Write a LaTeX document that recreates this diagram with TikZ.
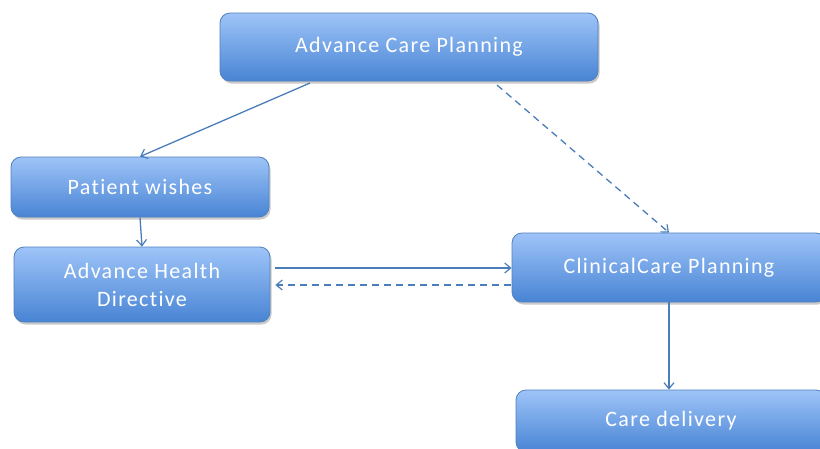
\documentclass[tikz,border=0pt]{standalone}
\usepackage{fontspec}
\setmainfont{Carlito}[LetterSpace=6,Ligatures={NoCommon}]
\usetikzlibrary{shadows,arrows.meta}
\definecolor{boxtop}{RGB}{158,196,248}
\definecolor{boxbot}{RGB}{72,132,212}
\definecolor{boxline}{RGB}{80,128,190}
\definecolor{arrowc}{RGB}{74,126,187}
\begin{document}
\begin{tikzpicture}[x=1pt,y=-1pt,
  box/.style={draw=boxline, line width=0.8pt, rounded corners=10pt,
    top color=boxtop, bottom color=boxbot, text=white,
    font=\fontsize{22}{26}\selectfont, align=center, inner sep=0pt,
    drop shadow={shadow xshift=1.5pt, shadow yshift=-2.5pt, opacity=0.35, fill=black!60}},
  conn/.style={draw=arrowc, line width=1.3pt, -{Straight Barb[length=6pt,width=10pt,line width=1.2pt]}},
  dashconn/.style={conn, dashed, dash pattern=on 7pt off 5pt}]
\useasboundingbox (0,0) rectangle (820,448);
\node[box, minimum width=378pt, minimum height=68pt] (acp) at (409,47) {Advance Care Planning};
\node[box, minimum width=258pt, minimum height=60pt] (pw) at (140,187) {Patient wishes};
\node[box, minimum width=256pt, minimum height=75pt] (ahd) at (142,284.5) {Advance Health\\[2pt]Directive};
\node[box, minimum width=314pt, minimum height=69pt] (ccp) at (669,267.5) {ClinicalCare Planning};
\node[box, minimum width=310pt, minimum height=62pt] (cd) at (671,421) {Care delivery};
\coordinate (a1) at (310,83);
\coordinate (a2) at (497,85);
\coordinate (h1) at (275,268);
\coordinate (h2) at (511,285);
\draw[conn] (a1) -- (pw.north);
\draw[dashconn] (a2) -- (ccp.north);
\draw[conn] (pw.south) -- (ahd.north);
\draw[conn] (h1) -- (h1 -| ccp.west);
\draw[dashconn] (h2) -- ([xshift=5pt]h2 -| ahd.east);
\draw[conn] (ccp.south) -- (cd.north -| ccp.south);
\end{tikzpicture}
\end{document}
